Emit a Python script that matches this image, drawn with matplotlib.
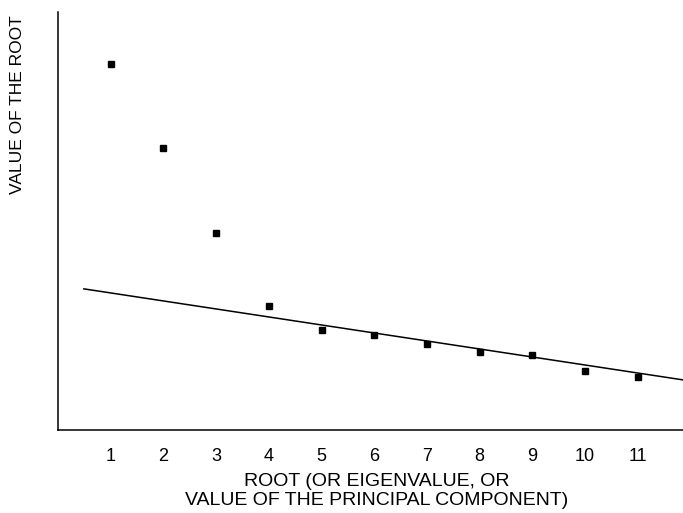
import matplotlib.pyplot as plt

plt.rcParams['font.family'] = ['Liberation Sans', 'DejaVu Sans']

# Scree plot values (arbitrary units)
roots = [1, 2, 3, 4, 5, 6, 7, 8, 9, 10, 11]
values = [3.66, 2.82, 1.97, 1.24, 1.00, 0.95, 0.86, 0.78, 0.75, 0.59, 0.53]

# Straight line through the smaller roots
line_x = [0.49, 11.86]
line_y = [1.41, 0.50]

fig = plt.figure(figsize=(6.83, 5.13), dpi=100)
ax = fig.add_axes([0.085, 0.162, 0.915, 0.815])

ax.plot(roots, values, 's', color='black', markersize=3.7)
ax.plot(line_x, line_y, color='black', linewidth=1.1)

ax.set_xlim(0, 11.86)
ax.set_ylim(0, 4.18)
ax.set_xticks(roots)
ax.set_yticks([])
ax.tick_params(axis='x', length=0, pad=13, labelsize=13)

ax.spines['top'].set_visible(False)
ax.spines['right'].set_visible(False)
ax.spines['left'].set_linewidth(1.1)
ax.spines['bottom'].set_linewidth(1.1)

fig.text(0.551, 0.043, 'ROOT (OR EIGENVALUE, OR\nVALUE OF THE PRINCIPAL COMPONENT)',
         ha='center', va='center', fontsize=14, linespacing=1.2)
fig.text(0.025, 0.797, 'VALUE OF THE ROOT', rotation=90, ha='center', va='center',
         fontsize=12.5)

fig.savefig('out.png', dpi=100)
